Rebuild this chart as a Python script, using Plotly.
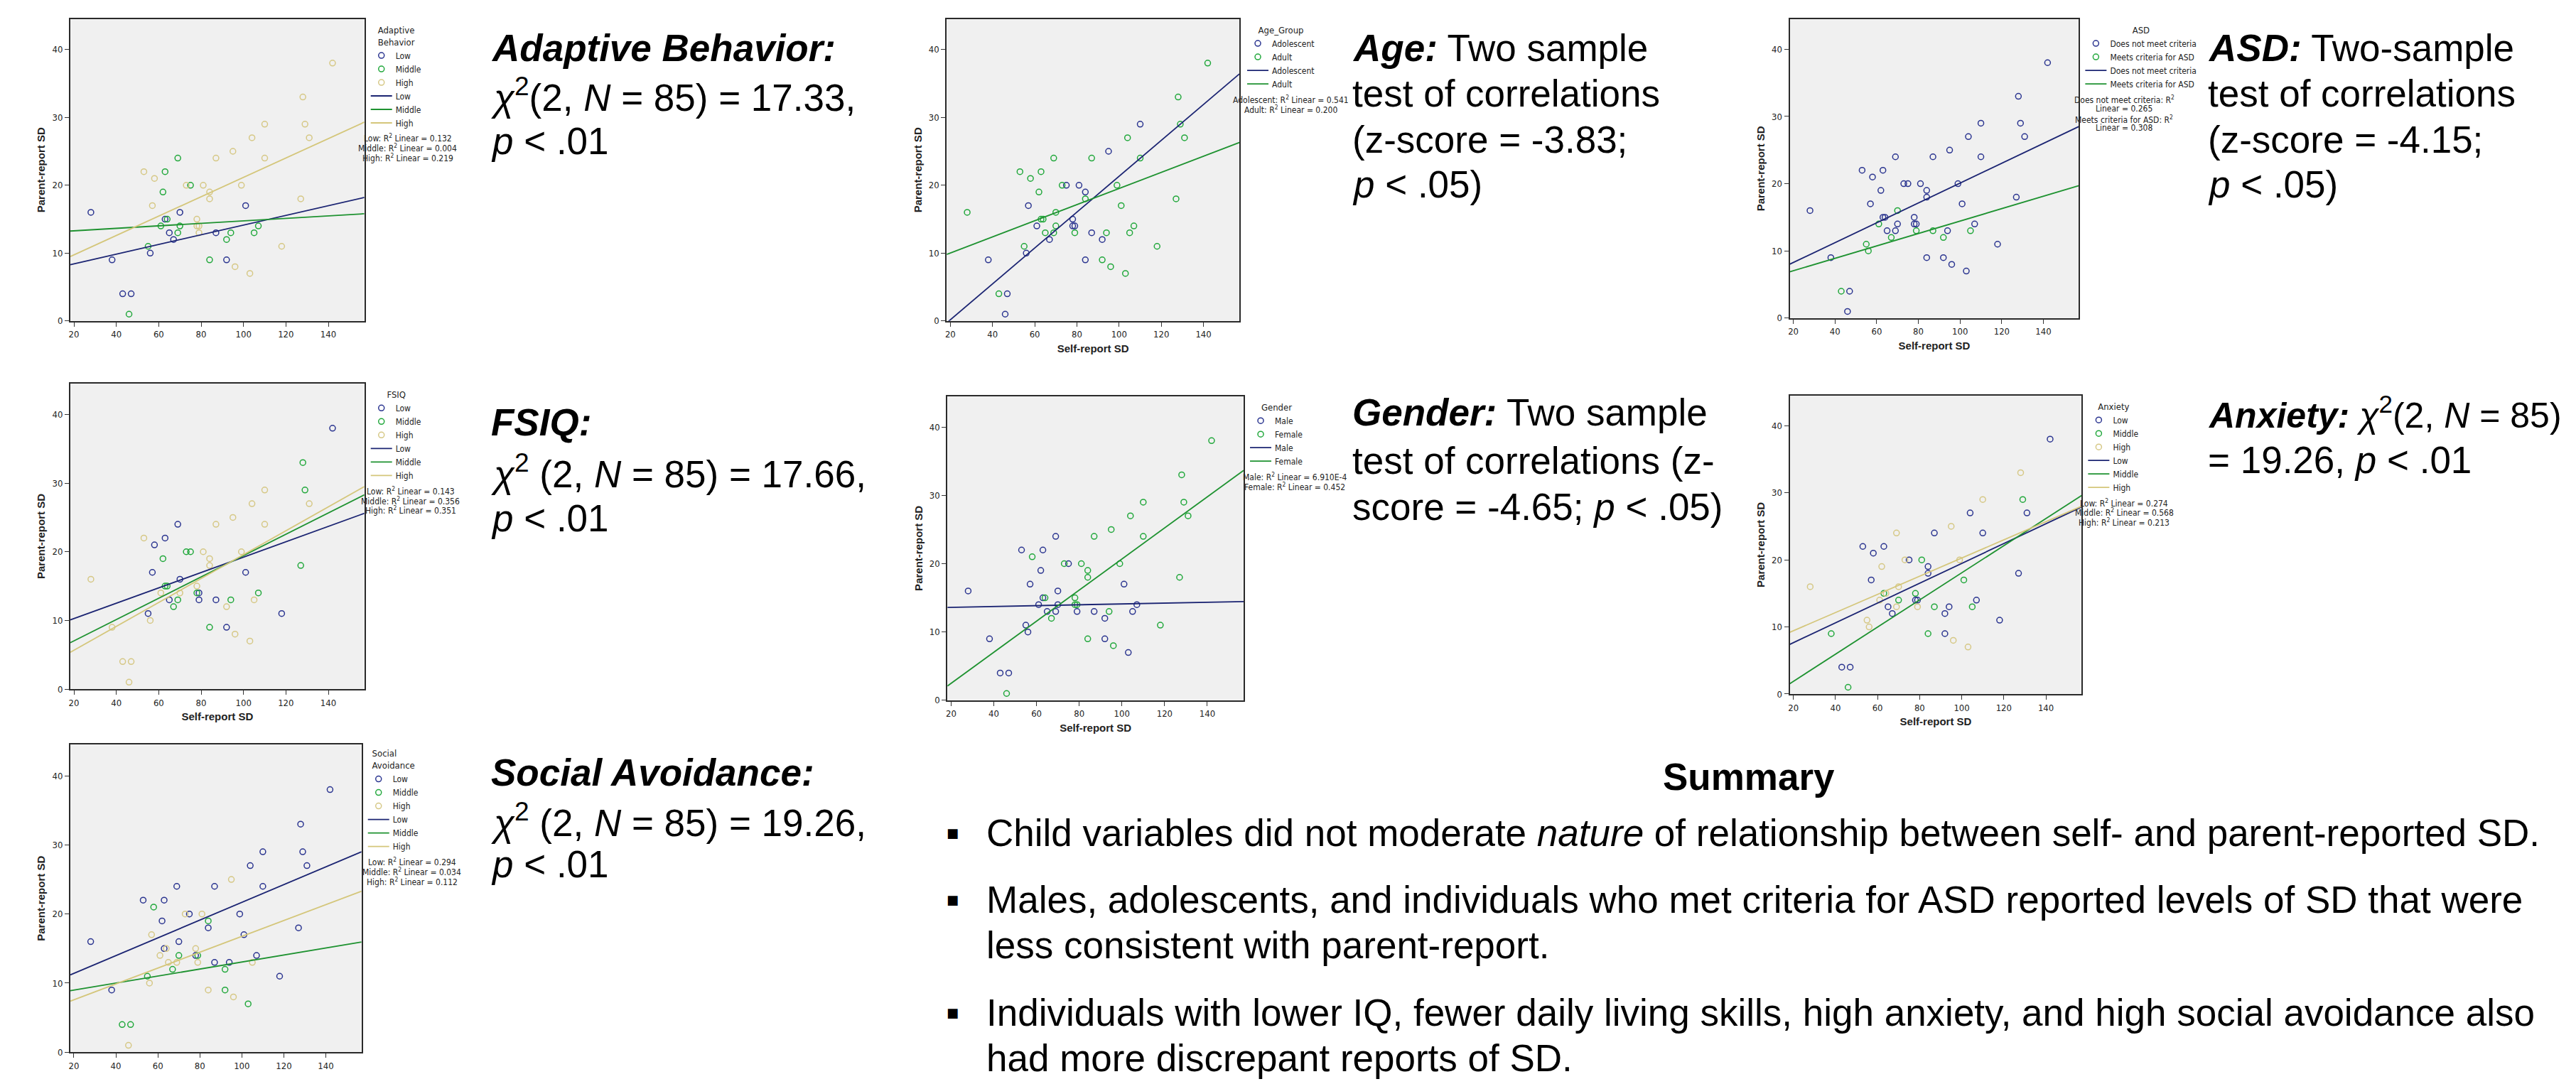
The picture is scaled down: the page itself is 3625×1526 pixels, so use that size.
import plotly.graph_objects as go

W, H = 3625, 1526

# ---------------- data ----------------
self_sd = [28, 38, 43, 46, 47, 53, 55, 56, 57, 58,
           61, 62, 63, 63, 64, 65, 67, 69, 69, 70,
           70, 73, 75, 78, 78, 79, 79, 81, 84, 84,
           84, 87, 87, 92, 92, 94, 95, 96, 99, 101,
           103, 104, 105, 107, 110, 110, 118, 127, 128, 129,
           131, 142]
parent_sd = [16, 9, 4, 1, 4, 22, 11, 10, 17, 21,
             14, 19, 22, 15, 15, 13, 12, 24, 13, 16,
             14, 20, 20, 15, 14, 14, 13, 20, 19, 18,
             9, 24, 13, 12, 9, 13, 25, 8, 20, 17,
             7, 27, 13, 14, 29, 24, 11, 18, 33, 29,
             27, 38]

# group membership of each point in each panel
adaptive_grp = list("LLLMLHMLHH" "MMMLMLLMML" "MHMHHHHHHH" "MHLMLMHHHL" "HHMMHHHHHH" "HH")
age_grp      = list("DADAADDAAD" "ADDDDDADDD" "DDAAAADAAD" "ADAADDADDD" "DDDDADDDDD" "DD")
asd_grp      = list("NNYNNNYYNN" "YNNNNNYNNY" "NNNNNNYNNN" "NNYYNNNNNN" "NNYNNNNNNN" "NN")
fsiq_grp     = list("HHHHHHLHLL" "HMLMMLMLML" "HMMHMLLHHH" "MHLHLMHHHL" "HHHMHHLMMM" "HL")
gender_grp   = list("MMMFMMMMMF" "MMMMFMFMMM" "MFMFFFMFFF" "FFMMMFFFFM" "MFMMFFFFFF" "FF")
anxiety_grp  = list("HMLMLLHHLL" "HHLMHLLHHH" "MHLMLLHMLL" "MLMLLLHHHM" "HLMLHLLLHM" "LL")
social_grp   = list("LLMHMLMHHM" "HLLLHHMLHL" "MHLHLMHHML" "HLLMMLHHLL" "MLHLLLLLLL" "LL")

# fitted-line values at the two ends of the x range
fit_x = [18.3, 157.0]
adaptive_fit = {"L": [8.3, 18.2], "M": [13.25, 15.8], "H": [9.5, 29.3]}
age_fit      = {"A": [-0.28, 36.4], "D": [9.8, 26.3]}
asd_fit      = {"N": [8.03, 28.5], "Y": [6.9, 19.7]}
fsiq_fit     = {"L": [10.07, 25.6], "M": [6.76, 28.3], "H": [5.36, 29.5]}
gender_fit   = {"M": [13.6, 14.46], "F": [2.09, 33.65]}
anxiety_fit  = {"L": [7.4, 27.9], "M": [1.54, 29.6], "H": [9.2, 28.0]}
social_fit   = {"L": [11.2, 29.0], "M": [8.9, 15.95], "H": [7.4, 23.3]}

lmh_codes = ["L", "M", "H"]
lmh_names = ["Low", "Middle", "High"]

adaptive_r2 = ["Low: R<sup>2</sup> Linear = 0.132", "Middle: R<sup>2</sup> Linear = 0.004", "High: R<sup>2</sup> Linear = 0.219"]
age_r2 = ["Adolescent: R<sup>2</sup> Linear = 0.541", "Adult: R<sup>2</sup> Linear = 0.200"]
asd_r2 = ["Does not meet criteria: R<sup>2</sup>", "Linear = 0.265", "Meets criteria for ASD: R<sup>2</sup>", "Linear = 0.308"]
fsiq_r2 = ["Low: R<sup>2</sup> Linear = 0.143", "Middle: R<sup>2</sup> Linear = 0.356", "High: R<sup>2</sup> Linear = 0.351"]
gender_r2 = ["Male: R<sup>2</sup> Linear = 6.910E-4", "Female: R<sup>2</sup> Linear = 0.452"]
anxiety_r2 = ["Low: R<sup>2</sup> Linear = 0.274", "Middle: R<sup>2</sup> Linear = 0.568", "High: R<sup>2</sup> Linear = 0.213"]
social_r2 = ["Low: R<sup>2</sup> Linear = 0.294", "Middle: R<sup>2</sup> Linear = 0.034", "High: R<sup>2</sup> Linear = 0.112"]

x_ticks = [20, 40, 60, 80, 100, 120, 140]
y_ticks = [0, 10, 20, 30, 40]
x_range = [18.3, 157.0]
y_range = [0, 44.5]

# ---------------- styling / layout ----------------
MARK_COLORS = ["#2B3590", "#22A83C", "#D6C886"]
LINE_COLORS = ["#1B2472", "#1E9230", "#D4C67A"]
NARROW = "Liberation Sans Narrow, DejaVu Sans Condensed, Arial Narrow, sans-serif"
SANS = "Liberation Sans, Arial, Helvetica, sans-serif"

panels = [
    dict(title="Adaptive<br>Behavior", grp=adaptive_grp, codes=lmh_codes, names=lmh_names, fit=adaptive_fit,
         r2=adaptive_r2, box=(97, 27, 511, 456), leg=(515, 30), r2x=572, xtitle=False),
    dict(title="Age_Group", grp=age_grp, codes=["A", "D"], names=["Adolescent", "Adult"], fit=age_fit,
         r2=age_r2, box=(1331, 27, 1743, 456), leg=(1749, 30), r2x=1816, xtitle=True),
    dict(title="ASD", grp=asd_grp, codes=["N", "Y"], names=["Does not meet criteria", "Meets criteria for ASD"],
         fit=asd_fit, r2=asd_r2, box=(2518, 27, 2925, 452), leg=(2929, 30), r2x=2989, xtitle=True),
    dict(title="FSIQ", grp=fsiq_grp, codes=lmh_codes, names=lmh_names, fit=fsiq_fit,
         r2=fsiq_r2, box=(97, 545, 511, 979), leg=(515, 548), r2x=576, xtitle=True),
    dict(title="Gender", grp=gender_grp, codes=["M", "F"], names=["Male", "Female"], fit=gender_fit,
         r2=gender_r2, box=(1332, 563, 1749, 995), leg=(1753, 566), r2x=1821, xtitle=True),
    dict(title="Anxiety", grp=anxiety_grp, codes=lmh_codes, names=lmh_names, fit=anxiety_fit,
         r2=anxiety_r2, box=(2518, 562, 2929, 986), leg=(2933, 565), r2x=2989, xtitle=True),
    dict(title="Social<br>Avoidance", grp=social_grp, codes=lmh_codes, names=lmh_names, fit=social_fit,
         r2=social_r2, box=(97, 1058, 507, 1495), leg=(511, 1058), r2x=578, xtitle=False),
]

fig = go.Figure()
layout = dict(width=W, height=H, margin=dict(l=0, r=0, t=0, b=0),
              paper_bgcolor="white", plot_bgcolor="#F0F0F0", showlegend=True)
annotations = []

for i, p in enumerate(panels):
    n = i + 1
    xa = "x" if n == 1 else f"x{n}"
    ya = "y" if n == 1 else f"y{n}"
    leg = "legend" if n == 1 else f"legend{n}"
    L, T, R, B = p["box"]

    # scatter points per group
    for k, code in enumerate(p["codes"]):
        xs = [x for x, g in zip(self_sd, p["grp"]) if g == code]
        ys = [y for y, g in zip(parent_sd, p["grp"]) if g == code]
        fig.add_trace(go.Scatter(
            x=xs, y=ys, mode="markers", name=p["names"][k], xaxis=xa, yaxis=ya, legend=leg,
            marker=dict(symbol="circle-open", size=8, color=MARK_COLORS[k], line=dict(width=1.5, color=MARK_COLORS[k])),
            hoverinfo="x+y"))
    # fit lines per group
    for k, code in enumerate(p["codes"]):
        fig.add_trace(go.Scatter(
            x=fit_x, y=p["fit"][code], mode="lines", name=p["names"][k], xaxis=xa, yaxis=ya, legend=leg,
            line=dict(color=LINE_COLORS[k], width=1.8), hoverinfo="skip"))

    axis_common = dict(showgrid=False, zeroline=False, showline=True, mirror=True, linecolor="#2a2a2a",
                       linewidth=2, ticks="outside", ticklen=6, tickwidth=1, tickcolor="#333",
                       tickfont=dict(family=NARROW, size=13, color="#222"))
    layout["xaxis" if n == 1 else f"xaxis{n}"] = dict(
        axis_common, domain=[L / W, R / W], anchor=ya, range=x_range, tickvals=x_ticks,
        title=dict(text="<b>Self-report SD</b>" if p["xtitle"] else "", standoff=8,
                   font=dict(family=SANS, size=15, color="#222")))
    layout["yaxis" if n == 1 else f"yaxis{n}"] = dict(
        axis_common, domain=[1 - B / H, 1 - T / H], anchor=xa, range=y_range, tickvals=y_ticks,
        title=dict(text="<b>Parent-report SD</b>", standoff=6,
                   font=dict(family=SANS, size=15, color="#222")))

    lx, ly = p["leg"]
    layout[leg] = dict(x=lx / W, y=1 - ly / H, xanchor="left", yanchor="top",
                       bgcolor="rgba(0,0,0,0)", borderwidth=0, tracegroupgap=0,
                       font=dict(family=NARROW, size=12, color="#222"),
                       title=dict(text=p["title"], side="top center", font=dict(family=NARROW, size=13, color="#222")),
                       itemwidth=30)

    n_title_lines = p["title"].count("<br>") + 1
    leg_bottom = ly + 6 + 17 * n_title_lines + 19 * 2 * len(p["codes"]) + 2
    for j, line in enumerate(p["r2"]):
        annotations.append(dict(xref="paper", yref="paper", x=p["r2x"] / W, y=1 - (leg_bottom + 14 * j) / H,
                                xanchor="center", yanchor="top", showarrow=False, text=line,
                                font=dict(family=NARROW, size=12, color="#222")))

# ---------------- statistics text ----------------
FS = 53
def add_lines(x, ys, lines, size=FS, anchor="left"):
    for yy, t in zip(ys, lines):
        annotations.append(dict(xref="paper", yref="paper", x=x / W, y=1 - yy / H, xanchor=anchor,
                                yanchor="middle", showarrow=False, text=t,
                                font=dict(family=SANS, size=size, color="black")))

CHI = "<i>χ</i><sup>2</sup>"
add_lines(687, [68, 135, 200], [
    "<b><i>Adaptive Behavior:</i></b>",
    f"{CHI}(2, <i>N</i> = 85) = 17.33,",
    "<i>p</i> &lt; .01"])
add_lines(1900, [68, 133, 198, 262], [
    "<b><i>Age:</i></b> Two sample",
    "test of correlations",
    "(z-score = -3.83;",
    "<i>p</i> &lt; .05)"])
add_lines(3105, [68, 133, 198, 262], [
    "<b><i>ASD:</i></b> Two-sample",
    "test of correlations",
    "(z-score = -4.15;",
    "<i>p</i> &lt; .05)"])
add_lines(687, [600, 670, 736], [
    "<b><i>FSIQ:</i></b>",
    f"{CHI} (2, <i>N</i> = 85) = 17.66,",
    "<i>p</i> &lt; .01"])
add_lines(1900, [586, 655, 720], [
    "<b><i>Gender:</i></b> Two sample",
    "test of correlations (z-",
    "score = -4.65; <i>p</i> &lt; .05)"])
add_lines(3105, [586], [f"<b><i>Anxiety:</i></b> {CHI}(2, <i>N</i> = 85)"], size=50)
add_lines(3105, [653], ["= 19.26, <i>p</i> &lt; .01"])
add_lines(687, [1098, 1165, 1228], [
    "<b><i>Social Avoidance:</i></b>",
    f"{CHI} (2, <i>N</i> = 85) = 19.26,",
    "<i>p</i> &lt; .01"])

# ---------------- summary ----------------
add_lines(2460, [1104], ["<b>Summary</b>"], anchor="center")
add_lines(1385, [1183, 1278, 1343, 1439, 1503], [
    "Child variables did not moderate <i>nature</i> of relationship between self- and parent-reported SD.",
    "Males, adolescents, and individuals who met criteria for ASD reported levels of SD that were",
    "less consistent with parent-report.",
    "Individuals with lower IQ, fewer daily living skills, high anxiety, and high social avoidance also",
    "had more discrepant reports of SD."])
for yy in [1183, 1278, 1439]:
    annotations.append(dict(xref="paper", yref="paper", x=1339 / W, y=1 - yy / H, xanchor="center",
                            yanchor="middle", showarrow=False, text="■",
                            font=dict(family="DejaVu Sans, sans-serif", size=18, color="black")))

layout["annotations"] = annotations
fig.update_layout(**layout)
fig.write_html("out.html")
